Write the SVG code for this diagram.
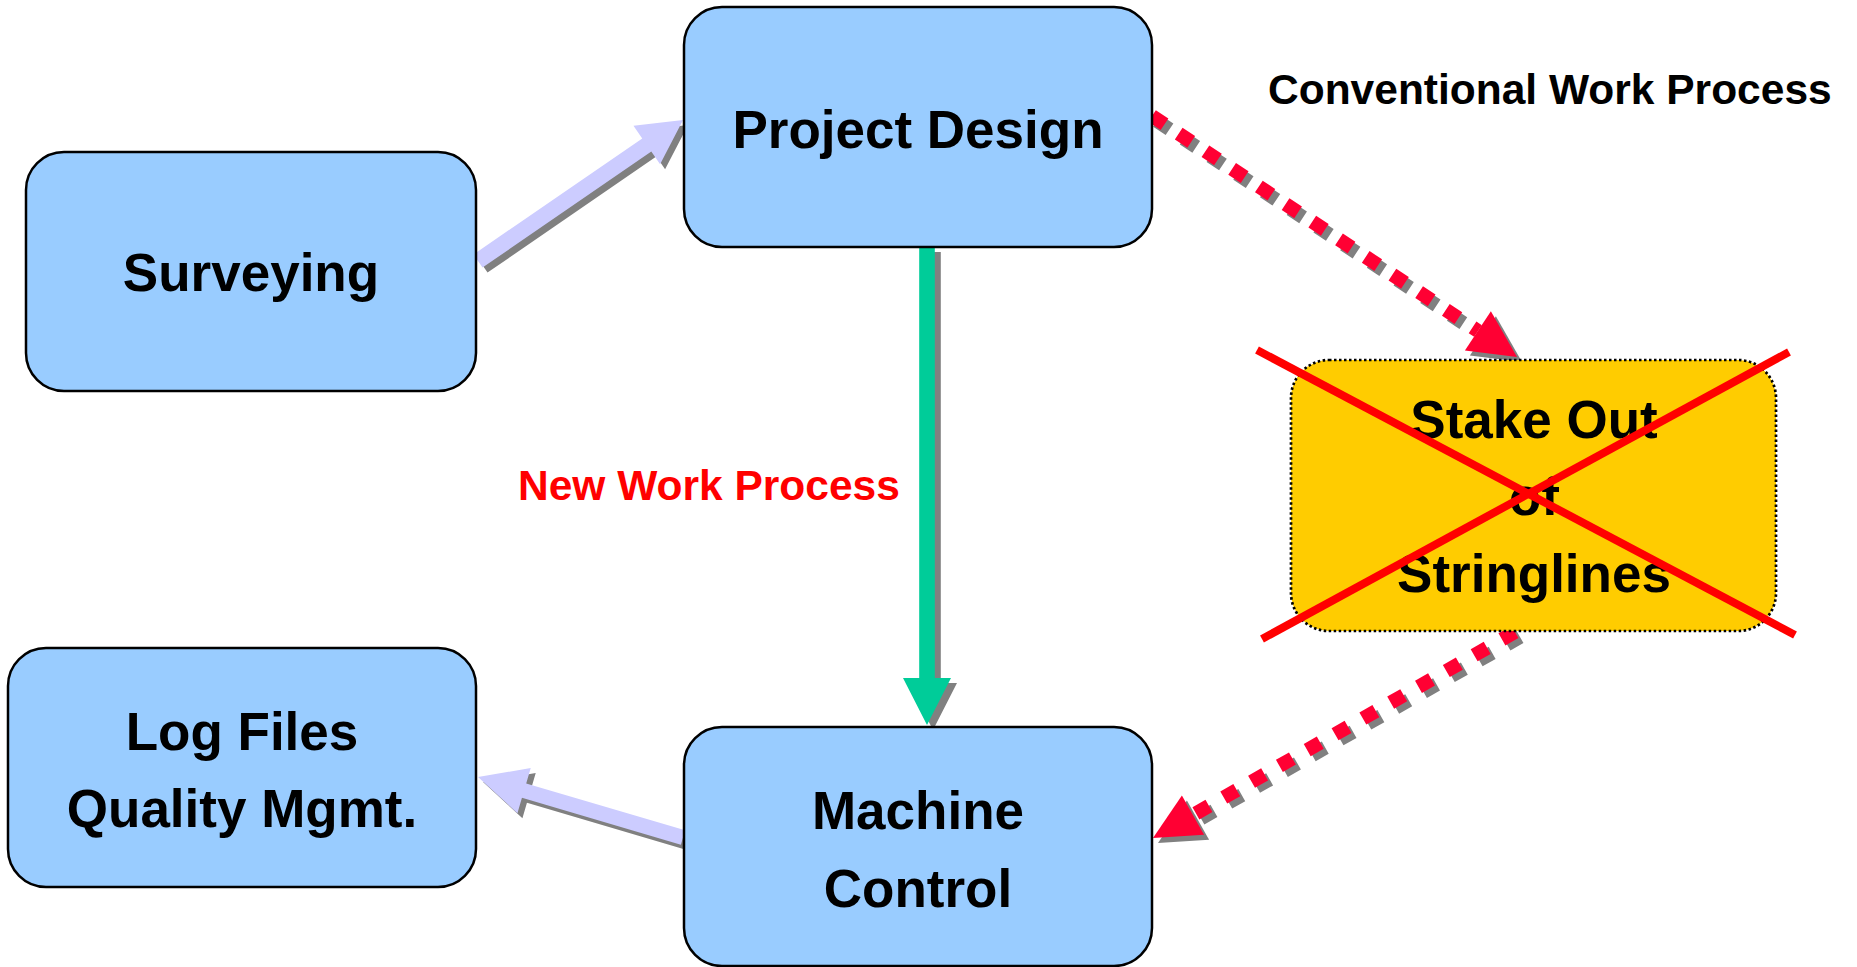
<svg xmlns="http://www.w3.org/2000/svg" width="1857" height="967" viewBox="0 0 1857 967">
  <defs>
    <style>
      .box { fill: #99CCFF; stroke: #000000; stroke-width: 2.5; }
      .stake { fill: #FFCC00; stroke: #000000; stroke-width: 2.7; stroke-dasharray: 2.5 2.5; }
      .label { font-family: "Liberation Sans", Arial, sans-serif; font-weight: bold; font-size: 53px; fill: #000000; text-anchor: middle; }
      .note { font-family: "Liberation Sans", Arial, sans-serif; font-weight: bold; font-size: 42.5px; }
      .shadow { fill: #808080; }
      .lav { fill: #CCCCFF; }
      .green { fill: #00CC99; }
      .dash { fill: none; stroke: #FF0033; stroke-width: 14; stroke-dasharray: 15 17; }
      .dash-shadow { fill: none; stroke: #808080; stroke-width: 14; stroke-dasharray: 15 17; }
      .head { fill: #FF0033; }
      .cross { stroke: #FF0000; stroke-width: 8; stroke-linecap: butt; }
    </style>
    <!-- block arrow shapes in local coordinates, pointing along +x -->
    <polygon id="arrowUp" points="0,-8 204.8,-8 204.8,-23.5 248.8,0 204.8,23.5 204.8,8 0,8"/>
    <polygon id="arrowLeft" points="0,-7.5 165.7,-7.5 165.7,-23.5 213.7,0 165.7,23.5 165.7,7.5 0,7.5"/>
    <polygon id="arrowDown" points="919.2,247 934.8,247 934.8,678 951,678 927,725 903,678 919.2,678"/>
    <polygon id="headA" points="1517,357 1490.9,311.3 1464.9,350.5"/>
    <polygon id="headB" points="1153,838 1204.1,834.8 1181.9,795.6"/>
  </defs>

  <rect x="0" y="0" width="1857" height="967" fill="#FFFFFF"/>

  <g id="connectors">
    <!-- Surveying -> Project Design -->
    <g id="edge-survey-design">
      <use href="#arrowUp" class="shadow" transform="translate(5,5) translate(478,261) rotate(-34.5)"/>
      <use href="#arrowUp" class="lav" transform="translate(478,261) rotate(-34.5)"/>
    </g>
    <!-- Machine Control -> Log Files -->
    <g id="edge-machine-log">
      <use href="#arrowLeft" class="shadow" transform="translate(5,5) translate(683,837.5) rotate(-163.56)"/>
      <use href="#arrowLeft" class="lav" transform="translate(683,837.5) rotate(-163.56)"/>
    </g>
    <!-- Project Design -> Machine Control (new process) -->
    <g id="edge-design-machine">
      <use href="#arrowDown" class="shadow" transform="translate(6,5)"/>
      <use href="#arrowDown" class="green"/>
    </g>
    <!-- Project Design -> Stake Out (conventional) -->
    <g id="edge-design-stake">
      <line class="dash-shadow" x1="1157" y1="121" x2="1483" y2="336"/>
      <use href="#headA" class="shadow" transform="translate(5,5)"/>
      <line class="dash" x1="1152" y1="116" x2="1478" y2="331"/>
      <use href="#headA" class="head"/>
    </g>
    <!-- Stake Out -> Machine Control (conventional) -->
    <g id="edge-stake-machine">
      <line class="dash-shadow" x1="1520" y1="637" x2="1198" y2="820"/>
      <use href="#headB" class="shadow" transform="translate(5,5)"/>
      <line class="dash" x1="1515" y1="632" x2="1193" y2="815"/>
      <use href="#headB" class="head"/>
    </g>
  </g>

  <g id="node-surveying">
    <rect class="box" x="26" y="152" width="450" height="239" rx="38" ry="38"/>
    <text class="label" x="251" y="291">Surveying</text>
  </g>

  <g id="node-project-design">
    <rect class="box" x="684" y="7" width="468" height="240" rx="38" ry="38"/>
    <text class="label" x="918" y="148">Project Design</text>
  </g>

  <g id="node-log-files">
    <rect class="box" x="8" y="648" width="468" height="239" rx="38" ry="38"/>
    <text class="label" x="242" y="750">Log Files</text>
    <text class="label" x="242" y="827">Quality Mgmt.</text>
  </g>

  <g id="node-machine-control">
    <rect class="box" x="684" y="727" width="468" height="239" rx="38" ry="38"/>
    <text class="label" x="918" y="829">Machine</text>
    <text class="label" x="918" y="907">Control</text>
  </g>

  <g id="node-stake-out">
    <rect class="stake" x="1291" y="360" width="485" height="271" rx="38" ry="38"/>
    <text class="label" x="1534" y="438">Stake Out</text>
    <text class="label" x="1534" y="515">of</text>
    <text class="label" x="1534" y="592">Stringlines</text>
    <line class="cross" x1="1257" y1="350" x2="1795" y2="635"/>
    <line class="cross" x1="1789" y1="352" x2="1262" y2="639"/>
  </g>

  <g id="labels">
    <text class="note" x="1268" y="104" fill="#000000">Conventional Work Process</text>
    <text class="note" x="518" y="500" fill="#FF0000">New Work Process</text>
  </g>
</svg>
